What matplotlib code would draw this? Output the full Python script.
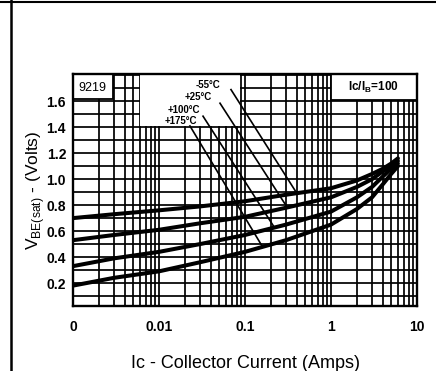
import matplotlib
matplotlib.use('Agg')
import matplotlib.pyplot as plt
import numpy as np
from matplotlib.lines import Line2D
from matplotlib.patches import Rectangle

plt.rcParams['font.family'] = ['Liberation Sans', 'DejaVu Sans']

# collector current (A) and VBE(sat) (V)
ic = [0.001, 0.003, 0.01, 0.03, 0.1, 0.3, 1, 2, 3, 4, 5, 6]
vbe_m55 = [0.70, 0.73, 0.76, 0.79, 0.83, 0.88, 0.93, 0.99, 1.04, 1.08, 1.12, 1.16]
vbe_25 = [0.53, 0.57, 0.61, 0.66, 0.71, 0.78, 0.86, 0.94, 1.00, 1.06, 1.10, 1.14]
vbe_100 = [0.33, 0.39, 0.44, 0.50, 0.57, 0.65, 0.75, 0.86, 0.94, 1.02, 1.08, 1.12]
vbe_175 = [0.18, 0.24, 0.29, 0.36, 0.44, 0.53, 0.65, 0.77, 0.86, 0.96, 1.04, 1.10]

temps = ['-55°C', '+25°C', '+100°C', '+175°C']
curves = [vbe_m55, vbe_25, vbe_100, vbe_175]
# label right edge (current, volts), leader start, and where the leader meets the curve
label_pos = [(0.0512, 1.723), (0.0413, 1.631), (0.030, 1.531), (0.0277, 1.446)]
leader_start = [(0.0687, 1.69), (0.0512, 1.585), (0.0325, 1.485), (0.0229, 1.41)]
leader_end_x = [0.40, 0.31, 0.22, 0.16]

xticks = [0.001, 0.01, 0.1, 1, 10]
xticklabels = ['0', '0.01', '0.1', '1', '10']
yticks = [0.2, 0.4, 0.6, 0.8, 1.0, 1.2, 1.4, 1.6]

fig = plt.figure(figsize=(4.36, 3.71), dpi=100)
ax = fig.add_axes([73 / 436, 1 - 306 / 371, 344 / 436, 232 / 371])

ax.set_xscale('log')
ax.set_xlim(0.001, 10)
ax.set_ylim(0.023, 1.81)

# grid: 1..9 per decade, every 0.1 V
vgrid = [m * 10.0 ** d for d in range(-3, 1) for m in range(1, 10)][1:]
for xv in vgrid:
    ax.axvline(xv, color='black', lw=1.25, zorder=1)
for yv in np.arange(0.1, 1.81, 0.1):
    ax.axhline(yv, color='black', lw=1.25, zorder=1)

# white patches for the labels
ax.add_patch(Rectangle((0.0060, 1.41), 0.0875 - 0.0060, 0.5,
                       facecolor='white', edgecolor='none', zorder=2))
ax.add_patch(Rectangle((0.001, 1.62), 0.0029 - 0.001, 0.3,
                       facecolor='white', edgecolor='black', lw=1.3, zorder=2))
ax.add_patch(Rectangle((1.0, 1.61), 9.0, 0.3,
                       facecolor='white', edgecolor='black', lw=1.3, zorder=2))
ax.text(0.0017, 1.705, '9219', ha='center', va='center', fontsize=9, zorder=3)
ax.text(6.2, 1.705, r'Ic/I$_\mathregular{B}$=100', ha='right', va='center',
        fontsize=8.5, fontweight='bold', zorder=3)

for v in curves:
    ax.plot(ic, v, color='black', lw=2.9, zorder=4, solid_capstyle='round',
            solid_joinstyle='round')

for name, v, lp, ls, ex in zip(temps, curves, label_pos, leader_start, leader_end_x):
    ax.text(lp[0], lp[1], name, ha='right', va='center', fontsize=7,
            fontweight='bold', zorder=5)
    ey = np.interp(np.log10(ex), np.log10(ic), v)
    ax.plot([ls[0], ex], [ls[1], ey], color='black', lw=1.2, zorder=4)

ax.set_xticks(xticks)
ax.set_xticklabels(xticklabels, fontsize=10, fontweight='bold')
ax.set_xticks([], minor=True)
ax.set_yticks(yticks)
ax.set_yticklabels(['%.1f' % y for y in yticks], fontsize=10, fontweight='bold')
ax.tick_params(length=0, pad=5)
ax.tick_params(axis='x', pad=10)
for s in ax.spines.values():
    s.set_linewidth(1.7)
    s.set_zorder(6)

ax.set_xlabel('Ic - Collector Current (Amps)', fontsize=13, labelpad=15)
ax.set_ylabel(r'V$_\mathregular{BE(sat)}$ - (Volts)', fontsize=12.5, labelpad=0)

# scan page borders
fig.add_artist(Line2D([11 / 436, 11 / 436], [0, 1], color='black', lw=1.8,
                      transform=fig.transFigure))
fig.add_artist(Line2D([0, 1], [1 - 1.5 / 371, 1 - 1.5 / 371], color='black', lw=1.5,
                      transform=fig.transFigure))

fig.savefig('out.png', dpi=100)
